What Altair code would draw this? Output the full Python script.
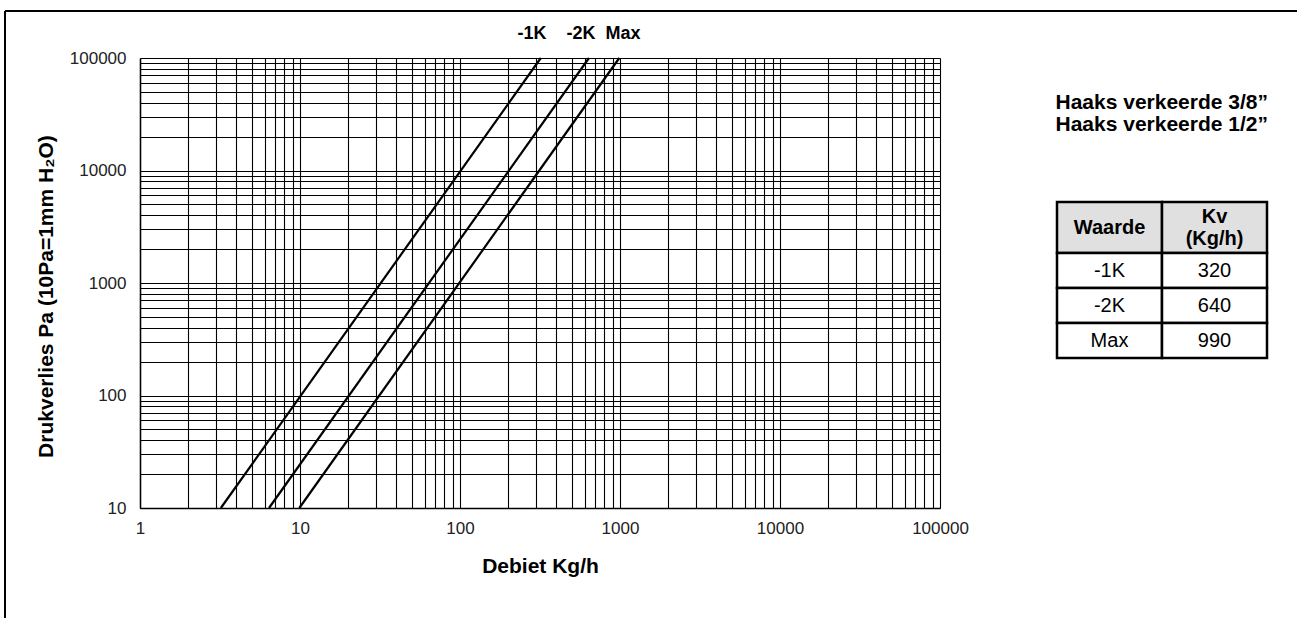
import altair as alt
import pandas as pd

FONT = "Liberation Sans"

# ---- data ----
series = ["-1K", "-2K", "Max"]
flow_start = [3.2, 6.4, 9.9]          # Kg/h at 10 Pa
flow_end = [320, 640, 990]            # Kg/h at 100000 Pa
pressure_start = [10, 10, 10]
pressure_end = [100000, 100000, 100000]
kv_values = [320, 640, 990]

x_major = [1, 10, 100, 1000, 10000, 100000]
y_major = [10, 100, 1000, 10000, 100000]

x_title = "Debiet Kg/h"
y_title = "Drukverlies Pa (10Pa=1mm H\u2082O)"
right_title = "Haaks verkeerde 3/8\u201d\nHaaks verkeerde 1/2\u201d"
table_cols = ["Waarde", "Kv"]
table_head = ["Waarde", "Kv\n(Kg/h)"]

# grid positions (log decades with 2..9 subdivisions)
x_grid = [m * k for m in x_major[:-1] for k in range(1, 10)] + [x_major[-1]]
y_grid = [m * k for m in y_major[:-1] for k in range(1, 10)] + [y_major[-1]]

rows = []
for s, f0, f1, p0, p1 in zip(series, flow_start, flow_end, pressure_start, pressure_end):
    rows.append({"series": s, "flow": f0, "dp": p0})
    rows.append({"series": s, "flow": f1, "dp": p1})
lines_df = pd.DataFrame(rows)

body_rows = []
for s, kv in zip(series, kv_values):
    body_rows.append({"row": s, "col": "Waarde", "txt": s})
    body_rows.append({"row": s, "col": "Kv", "txt": str(kv)})
body_df = pd.DataFrame(body_rows)
head_df = pd.DataFrame({"row": ["h", "h"], "col": table_cols, "txt": table_head})

x_lab = "indexof(" + str(x_major) + ", datum.value) >= 0 ? datum.label : ''"
y_lab = "indexof(" + str(y_major) + ", datum.value) >= 0 ? datum.label : ''"

common_axis = dict(
    grid=True, gridColor="black", gridWidth=1.1, gridOpacity=1,
    domainColor="black", domainWidth=1.5, ticks=False, tickSize=0,
    format="d", labelFont=FONT, labelFontSize=17, labelColor="#222",
    labelFlush=False, labelOverlap=False,
    titleFont=FONT, titleFontSize=21, titleFontWeight="bold", titleColor="black",
)

lines = alt.Chart(lines_df).mark_line(color="black", strokeWidth=2.2).encode(
    x=alt.X("flow:Q",
            scale=alt.Scale(type="log", domain=[x_major[0], x_major[-1]], nice=False),
            axis=alt.Axis(values=x_grid, labelExpr=x_lab, labelPadding=12,
                          title=x_title, titleX=400, titleY=58, titleAlign="center",
                          titleBaseline="middle", **common_axis)),
    y=alt.Y("dp:Q",
            scale=alt.Scale(type="log", domain=[y_major[0], y_major[-1]], nice=False),
            axis=alt.Axis(values=y_grid, labelExpr=y_lab, labelPadding=14,
                          title=y_title, titleAngle=270, titleX=-94, titleY=238,
                          titleAlign="center", titleBaseline="middle", **common_axis)),
    detail="series:N",
)

one = pd.DataFrame({"a": [0]})

NB = "\u00a0"
header_label = series[0] + NB * 4 + series[1] + NB * 2 + series[2]
header = alt.Chart(pd.DataFrame({"t": [header_label]})).mark_text(
    font=FONT, fontSize=18, fontWeight="bold", color="black", align="center", baseline="middle"
).encode(text="t:N", x=alt.value(439), y=alt.value(-24))

right_txt = alt.Chart(pd.DataFrame({"t": [right_title]})).mark_text(
    font=FONT, fontSize=21, fontWeight="bold", color="black", align="right",
    baseline="middle", lineBreak="\n", lineHeight=22
).encode(text="t:N", x=alt.value(1128), y=alt.value(45))

frame_top = alt.Chart(one).mark_rule(color="black", strokeWidth=2).encode(
    x=alt.value(-135), x2=alt.value(1157), y=alt.value(-47))
frame_left = alt.Chart(one).mark_rule(color="black", strokeWidth=2).encode(
    x=alt.value(-135), y=alt.value(-47), y2=alt.value(560))

col_band = alt.Scale(type="band", domain=table_cols, range=[917, 1127], paddingInner=0, paddingOuter=0)
col_point = alt.Scale(type="point", domain=table_cols, range=[917, 1127], padding=0.5)
row_band = alt.Scale(type="band", domain=series, range=[195, 300], paddingInner=0, paddingOuter=0)
row_point = alt.Scale(type="point", domain=series, range=[195, 300], padding=0.5)
head_band = alt.Scale(type="band", domain=["h"], range=[144, 195], paddingInner=0, paddingOuter=0)
head_point = alt.Scale(type="point", domain=["h"], range=[144, 195], padding=0.5)

head_rect = alt.Chart(head_df).mark_rect(fill="#e0e0e0", stroke="black", strokeWidth=2.5).encode(
    x=alt.X("col:N", scale=col_band, axis=None),
    y=alt.Y("row:N", scale=head_band, axis=None))
body_rect = alt.Chart(body_df).mark_rect(fill="white", stroke="black", strokeWidth=2.5).encode(
    x=alt.X("col:N", scale=col_band, axis=None),
    y=alt.Y("row:N", scale=row_band, axis=None))
head_text1 = alt.Chart(head_df).transform_filter(
    alt.datum.col == table_cols[0]
).mark_text(
    font=FONT, fontSize=20, fontWeight="bold", color="black", align="center",
    baseline="middle"
).encode(
    x=alt.X("col:N", scale=col_point, axis=None),
    y=alt.Y("row:N", scale=head_point, axis=None),
    text="txt:N")
head_text2 = alt.Chart(head_df).transform_filter(
    alt.datum.col == table_cols[1]
).mark_text(
    font=FONT, fontSize=20, fontWeight="bold", color="black", align="center",
    baseline="middle", lineBreak="\n", lineHeight=22, dy=-11
).encode(
    x=alt.X("col:N", scale=col_point, axis=None),
    y=alt.Y("row:N", scale=head_point, axis=None),
    text="txt:N")
body_text = alt.Chart(body_df).mark_text(
    font=FONT, fontSize=20, color="black", align="center", baseline="middle"
).encode(
    x=alt.X("col:N", scale=col_point, axis=None),
    y=alt.Y("row:N", scale=row_point, axis=None),
    text="txt:N")

chart = alt.layer(
    lines, header, right_txt, frame_top, frame_left,
    head_rect, body_rect, head_text1, head_text2, body_text
).properties(
    width=800, height=450,
    padding={"left": 4, "top": 10, "right": 0, "bottom": 0},
    background="white",
).resolve_scale(x="independent", y="independent").configure_view(strokeWidth=0)

chart.save("out.html", embed_options={"renderer": "svg", "actions": False})
